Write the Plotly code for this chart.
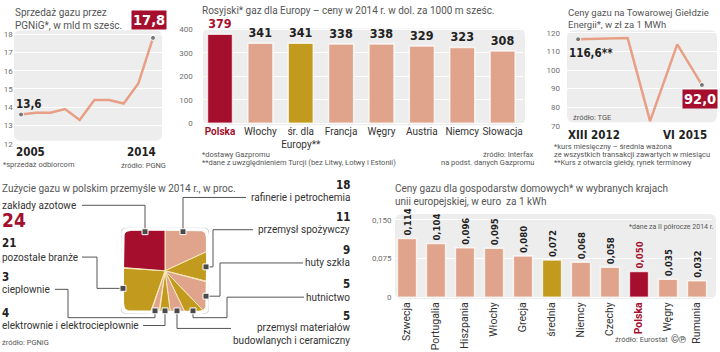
import numpy as np
import plotly.graph_objects as go

W, H = 720, 352
def px(x): return x / W
def py(y): return 1 - y / H

# ---------------- data ----------------
sales_years = [2005, 2006, 2007, 2008, 2009, 2010, 2011, 2012, 2013, 2014]
sales_values = [13.6, 13.7, 13.7, 13.9, 13.3, 14.4, 14.4, 14.2, 15.3, 17.8]

ru_countries = ["Polska", "Włochy", "śr. dla<br>Europy**", "Francja", "Węgry", "Austria", "Niemcy", "Słowacja"]
ru_prices = [379, 341, 341, 338, 338, 329, 323, 308]

tge_dates = ["2012-12-01", "2013-12-01", "2014-05-15", "2014-12-01", "2015-06-01"]
tge_prices = [116.6, 117.2, 72.5, 113.8, 92.0]

ind_sectors = ["rafinerie i petrochemia", "przemysł spożywczy", "huty szkła", "hutnictwo",
               "przemysł materiałów budowlanych i ceramiczny", "elektrownie i elektrociepłownie",
               "ciepłownie", "pozostałe branże", "zakłady azotowe"]
ind_shares = [18, 11, 9, 5, 5, 4, 3, 21, 24]

hh_countries = ["Szwecja", "Portugalia", "Hiszpania", "Włochy", "Grecja", "średnia",
                "Niemcy", "Czechy", "Polska", "Węgry", "Rumunia"]
hh_prices = [0.114, 0.104, 0.096, 0.095, 0.080, 0.072, 0.068, 0.058, 0.050, 0.035, 0.032]

# ---------------- style ----------------
RED = "#A50F2D"
SALMON = "#DFA48B"
GOLD = "#C29B1E"
LINEC = "#E89F86"
BG = "#EDEDED"
NARROW = "Liberation Sans Narrow, DejaVu Sans Condensed, Arial Narrow, sans-serif"
SANS = "Roboto, Liberation Sans, sans-serif"
TXT = "#555555"

fig = go.Figure()

# Panel 1: line
fig.add_trace(go.Scatter(x=sales_years, y=sales_values, mode="lines",
                         line=dict(color=LINEC, width=2.5), xaxis="x", yaxis="y", hoverinfo="skip"))
fig.add_trace(go.Scatter(x=[sales_years[0], sales_years[-1]], y=[sales_values[0], sales_values[-1]],
                         mode="markers", marker=dict(size=5, color="#777", line=dict(color="white", width=1)),
                         xaxis="x", yaxis="y", hoverinfo="skip"))

# Panel 2: bars
ru_colors = [RED if c == "Polska" else (GOLD if c.startswith("śr.") else SALMON) for c in ru_countries]
ru_textcol = [RED if c == "Polska" else "#222" for c in ru_countries]
fig.add_trace(go.Bar(x=list(range(len(ru_countries))), y=ru_prices, width=0.62,
                     marker=dict(color=ru_colors, line=dict(color="rgba(255,255,255,0.75)", width=1.5)),
                     text=[f"<b>{v}</b>" for v in ru_prices], textposition="outside", cliponaxis=False,
                     constraintext="none",
                     textfont=dict(family=NARROW, size=12.5, color=ru_textcol),
                     xaxis="x2", yaxis="y2", hoverinfo="skip"))

# Panel 3: line
fig.add_trace(go.Scatter(x=tge_dates, y=tge_prices, mode="lines",
                         line=dict(color=LINEC, width=2.5), xaxis="x3", yaxis="y3", hoverinfo="skip"))
fig.add_trace(go.Scatter(x=[tge_dates[0], tge_dates[-1]], y=[tge_prices[0], tge_prices[-1]],
                         mode="markers", marker=dict(size=5, color="#777", line=dict(color="white", width=1)),
                         xaxis="x3", yaxis="y3", hoverinfo="skip"))

# Panel 4: square pie
def srad(t, n=14):
    return 1.0 / (np.abs(np.cos(t)) ** n + np.abs(np.sin(t)) ** n) ** (1.0 / n)

pie_colors = [SALMON, GOLD, SALMON, GOLD, SALMON, GOLD, SALMON, GOLD, RED]
total = sum(ind_shares)
start = 0.0
for share, col in zip(ind_shares, pie_colors):
    a0 = start / total * 2 * np.pi
    a1 = (start + share) / total * 2 * np.pi
    t = np.linspace(a0, a1, max(3, int(share * 4)))
    r = srad(t)
    xs = np.concatenate([[0], r * np.sin(t), [0]])
    ys = np.concatenate([[0], r * np.cos(t), [0]])
    fig.add_trace(go.Scatter(x=xs, y=ys, mode="lines", fill="toself", fillcolor=col,
                             line=dict(color="#F6E9BE", width=1), xaxis="x4", yaxis="y4", hoverinfo="skip"))
    start += share
tt = np.linspace(0, 2 * np.pi, 361)
rr = srad(tt)
fig.add_trace(go.Scatter(x=rr * np.sin(tt), y=rr * np.cos(tt), mode="lines",
                         line=dict(color="white", width=2), xaxis="x4", yaxis="y4", hoverinfo="skip"))
fig.add_trace(go.Scatter(x=1.065 * rr * np.sin(tt), y=1.065 * rr * np.cos(tt), mode="lines",
                         line=dict(color="#C8C8C8", width=1), xaxis="x4", yaxis="y4", hoverinfo="skip"))

# Panel 5: bars
hh_colors = [RED if c == "Polska" else (GOLD if c == "średnia" else SALMON) for c in hh_countries]
hh_textcol = [RED if c == "Polska" else "#222" for c in hh_countries]
fig.add_trace(go.Bar(x=list(range(len(hh_countries))), y=hh_prices, width=0.66,
                     marker=dict(color=hh_colors, line=dict(color="rgba(255,255,255,0.75)", width=1.5)),
                     text=["<b>" + f"{v:.3f}".replace(".", ",") + "</b>" for v in hh_prices],
                     textposition="outside", textangle=-90, cliponaxis=False, constraintext="none",
                     textfont=dict(family=NARROW, size=9.5, color=hh_textcol),
                     xaxis="x5", yaxis="y5", hoverinfo="skip"))

# ---------------- axes ----------------
hid = dict(showgrid=False, zeroline=False, showticklabels=False, showline=False, ticks="")
ytick = dict(tickfont=dict(family=SANS, size=8, color="#6f6f6f"), showgrid=True, gridcolor="white",
             gridwidth=1, zeroline=False, showline=False, ticks="", showticklabels=True)

ru_ticktext = [f"<b><span style='color:{RED}'>{c}</span></b>" if c == "Polska" else c for c in ru_countries]
hh_ticktext = [f"<b><span style='color:{RED}'>{c}</span></b>" if c == "Polska" else c for c in hh_countries]

fig.update_layout(
    width=W, height=H, margin=dict(l=0, r=0, t=0, b=0), showlegend=False,
    paper_bgcolor="white", plot_bgcolor="rgba(0,0,0,0)",
    font=dict(family=SANS, color=TXT),
    xaxis=dict(domain=[px(13.7), px(161.8)], range=[2004.5, 2014.6], anchor="y", **hid),
    yaxis=dict(domain=[py(144), py(27.3)], range=[12, 18.25], tickvals=[12, 13, 14, 15, 16, 17, 18],
               anchor="x", **ytick),
    xaxis2=dict(domain=[px(199.8), px(522.8)], range=[-0.5, 7.5], anchor="y2",
                tickvals=list(range(len(ru_countries))), ticktext=ru_ticktext, tickangle=0,
                tickfont=dict(family=SANS, size=10, color="#333"),
                showgrid=False, zeroline=False, showline=False, ticks=""),
    yaxis2=dict(domain=[py(124.2), py(25.8)], range=[-5, 405], tickvals=[0, 100, 200, 300, 400],
                anchor="x2", ticklabelstandoff=6, **ytick),
    xaxis3=dict(domain=[px(567), px(717)], type="date", range=["2012-09-10", "2015-09-20"], anchor="y3", **hid),
    yaxis3=dict(domain=[py(125.7), py(28.7)], range=[70, 121], tickvals=[70, 80, 90, 100, 110, 120],
                anchor="x3", ticklabelstandoff=6, **ytick),
    xaxis4=dict(domain=[px(165 - 44), px(165 + 44)], range=[-44 / 42, 44 / 42], anchor="y4", **hid),
    yaxis4=dict(domain=[py(274 + 44), py(274 - 44)], range=[-44 / 42, 44 / 42], anchor="x4", **hid),
    xaxis5=dict(domain=[px(392.5), px(711.5)], range=[-0.5, 10.5], anchor="y5",
                tickvals=list(range(len(hh_countries))), ticktext=hh_ticktext, tickangle=-90,
                tickfont=dict(family=SANS, size=10.5, color="#333"),
                showgrid=False, zeroline=False, showline=False, ticks=""),
    yaxis5=dict(domain=[py(303.1), py(216.7)], range=[-0.004, 0.16], tickvals=[0, 0.075, 0.15],
                ticktext=["0", "0,075", "0,150"], anchor="x5", **ytick),
)

# ---------------- shapes ----------------
shapes = []
def rrect(x0, y0, x1, y1, r, color):
    p = (f"M {px(x0+r)},{py(y0)} L {px(x1-r)},{py(y0)} Q {px(x1)},{py(y0)} {px(x1)},{py(y0+r)} "
         f"L {px(x1)},{py(y1-r)} Q {px(x1)},{py(y1)} {px(x1-r)},{py(y1)} "
         f"L {px(x0+r)},{py(y1)} Q {px(x0)},{py(y1)} {px(x0)},{py(y1-r)} "
         f"L {px(x0)},{py(y0+r)} Q {px(x0)},{py(y0)} {px(x0+r)},{py(y0)} Z")
    shapes.append(dict(type="path", path=p, xref="paper", yref="paper", fillcolor=color,
                       line=dict(width=0), layer="below"))

rrect(14, 28, 162, 141, 7, BG)
rrect(203, 26, 525, 125, 7, BG)
rrect(567, 28, 717, 122, 7, BG)
rrect(395, 216, 716, 303, 7, BG)

def polyline(pts):
    p = "M " + " L ".join(f"{px(x)},{py(y)}" for x, y in pts)
    shapes.append(dict(type="path", path=p, xref="paper", yref="paper",
                       line=dict(color="#555", width=1), layer="above"))

def square(x, y, s=3):
    shapes.append(dict(type="rect", xref="paper", yref="paper", x0=px(x - s), x1=px(x + s),
                       y0=py(y + s), y1=py(y - s), fillcolor="#4A4A4A",
                       line=dict(color="white", width=1), layer="above"))

connectors = [
    ([(82, 207), (145, 207), (145, 234)], (145, 234)),
    ([(246, 199), (183, 199), (183, 234)], (183, 234)),
    ([(253, 232), (213, 232), (213, 270), (206, 270)], (206, 270)),
    ([(303, 266), (220, 266), (220, 300), (206, 300)], (206, 300)),
    ([(304, 301), (227, 301), (227, 322), (193, 322), (193, 315)], (193, 315)),
    ([(231, 333), (177, 333), (177, 315)], (177, 315)),
    ([(143, 330), (165, 330), (165, 315)], (165, 315)),
    ([(55, 293), (68, 293), (68, 322), (155, 322), (155, 315)], (155, 315)),
    ([(82, 260), (97, 260), (97, 292), (123, 292)], (123, 292)),
]
for pts, mk in connectors:
    polyline(pts)
for pts, mk in connectors:
    square(*mk)

fig.update_layout(shapes=shapes)

# ---------------- annotations ----------------
anns = []
def ann(text, x, y, size=10, color=TXT, xanchor="left", yanchor="middle", family=SANS, **kw):
    d = dict(text=text, x=px(x), y=py(y), xref="paper", yref="paper", xanchor=xanchor, yanchor=yanchor,
             showarrow=False, font=dict(family=family, size=size, color=color), align=xanchor if xanchor != "center" else "center")
    d.update(kw)
    anns.append(d)

BOLDNUM = dict(family=NARROW, size=11.5, color="#222")

# Panel 1
ann("Sprzedaż gazu przez<br>PGNiG*, w mld m sześc.", 13, 2, size=10, yanchor="top")
ann("*sprzedaż odbiorcom", 1, 165, size=7.5)
ann("źródło: PGNG", 168, 166, size=7.5, xanchor="right")
anns.append(dict(text="<b>2005</b>", x=sales_years[0], y=12, xref="x", yref="y", xanchor="left", yanchor="top",
                 xshift=-7, yshift=1, showarrow=False, font=BOLDNUM))
anns.append(dict(text="<b>2014</b>", x=sales_years[-1], y=12, xref="x", yref="y", xanchor="right", yanchor="top",
                 xshift=5, yshift=1, showarrow=False, font=BOLDNUM))
anns.append(dict(text="<b>" + f"{sales_values[0]:.1f}".replace(".", ",") + "</b>", x=sales_years[0], y=sales_values[0],
                 xref="x", yref="y", xanchor="left", yanchor="middle", xshift=-7, yshift=11, showarrow=False,
                 font=BOLDNUM))
anns.append(dict(text="<b>" + f"{sales_values[-1]:.1f}".replace(".", ",") + "</b>", x=sales_years[-1], y=sales_values[-1],
                 xref="x", yref="y", xanchor="center", yanchor="bottom", xshift=-4, yshift=8, showarrow=False,
                 bgcolor=RED, borderpad=1, font=dict(family=NARROW, size=14.5, color="white")))

# Panel 2
ann("Rosyjski* gaz dla Europy – ceny w 2014 r. w dol. za 1000 m sześc.", 200, 8, size=10)
ann("*dostawy Gazpromu", 200, 155, size=7.5)
ann("**dane z uwzględnieniem Turcji (bez Litwy, Łotwy i Estonii)", 200, 163, size=7.5)
ann("źródło: Interfax", 536, 155, size=7.5, xanchor="right")
ann("na podst. danych Gazpromu", 536, 163, size=7.5, xanchor="right")

# Panel 3
ann("Ceny gazu na Towarowej Giełdzie<br>Energii*, w zł za 1 MWh", 566, 2, size=9.5, yanchor="top")
ann("źródło: TGE", 571, 117, size=7.5)
ann("*kurs miesięczny – średnia ważona", 552, 147, size=7.5)
ann("ze wszystkich transakcji zawartych w miesiącu", 552, 155, size=7.5)
ann("**Kurs z otwarcia giełdy, rynek terminowy", 552, 163, size=7.5)
anns.append(dict(text="<b>XIII 2012</b>", x=tge_dates[0], y=70, xref="x3", yref="y3", xanchor="left", yanchor="top",
                 xshift=-12, yshift=0, showarrow=False, font=BOLDNUM))
anns.append(dict(text="<b>VI 2015</b>", x=tge_dates[-1], y=70, xref="x3", yref="y3", xanchor="right", yanchor="top",
                 xshift=7, yshift=0, showarrow=False, font=BOLDNUM))
anns.append(dict(text="<b>" + f"{tge_prices[0]:.1f}".replace(".", ",") + "**</b>", x=tge_dates[0], y=tge_prices[0],
                 xref="x3", yref="y3", xanchor="left", yanchor="middle", xshift=-11, yshift=-14, showarrow=False,
                 font=BOLDNUM))
anns.append(dict(text="<b>" + f"{tge_prices[-1]:.1f}".replace(".", ",") + "</b>", x=tge_dates[-1], y=tge_prices[-1],
                 xref="x3", yref="y3", xanchor="center", yanchor="top", xshift=-2, yshift=-4, showarrow=False,
                 bgcolor=RED, borderpad=1, font=dict(family=NARROW, size=14.5, color="white")))

# Panel 4
NUMF = dict(size=11.5, color="#222", family=NARROW)
ann("Zużycie gazu w polskim przemyśle w 2014 r., w proc.", 0, 190, size=10)
ann("zakłady azotowe", 0, 207, size=10, color="#333")
ann(f"<b>{ind_shares[8]}</b>", 0, 222, size=19, color=RED, family=NARROW)
ann(f"<b>{ind_shares[7]}</b>", 0, 246, **NUMF)
ann("pozostałe branże", 0, 260, size=10, color="#333")
ann(f"<b>{ind_shares[6]}</b>", 0, 280, **NUMF)
ann("ciepłownie", 0, 293, size=10, color="#333")
ann(f"<b>{ind_shares[5]}</b>", 0, 317, **NUMF)
ann("elektrownie i elektrociepłownie", 0, 330, size=10, color="#333")
ann("źródło: PGNiG", 0, 347, size=7.5)
ann(f"<b>{ind_shares[0]}</b>", 352, 186, xanchor="right", **NUMF)
ann("rafinerie i petrochemia", 352, 199, size=10, color="#333", xanchor="right")
ann(f"<b>{ind_shares[1]}</b>", 352, 219, xanchor="right", **NUMF)
ann("przemysł spożywczy", 352, 232, size=10, color="#333", xanchor="right")
ann(f"<b>{ind_shares[2]}</b>", 352, 253, xanchor="right", **NUMF)
ann("huty szkła", 352, 266, size=10, color="#333", xanchor="right")
ann(f"<b>{ind_shares[3]}</b>", 352, 288, xanchor="right", **NUMF)
ann("hutnictwo", 352, 301, size=10, color="#333", xanchor="right")
ann(f"<b>{ind_shares[4]}</b>", 352, 320, xanchor="right", **NUMF)
ann("przemysł materiałów<br>budowlanych i ceramiczny", 352, 339, size=10, color="#333", xanchor="right")

# Panel 5
ann("Ceny gazu dla gospodarstw domowych* w wybranych krajach<br>unii europejskiej, w euro  za 1 kWh", 393, 196, size=10)
ann("*dane za II półrocze 2014 r.", 627, 229, size=7)
ann("źródło: Eurostat", 613, 344, size=7.5)
ann("©℗", 669, 344, size=10, color="#444")

fig.update_layout(annotations=anns)
fig.write_html("out.html")
